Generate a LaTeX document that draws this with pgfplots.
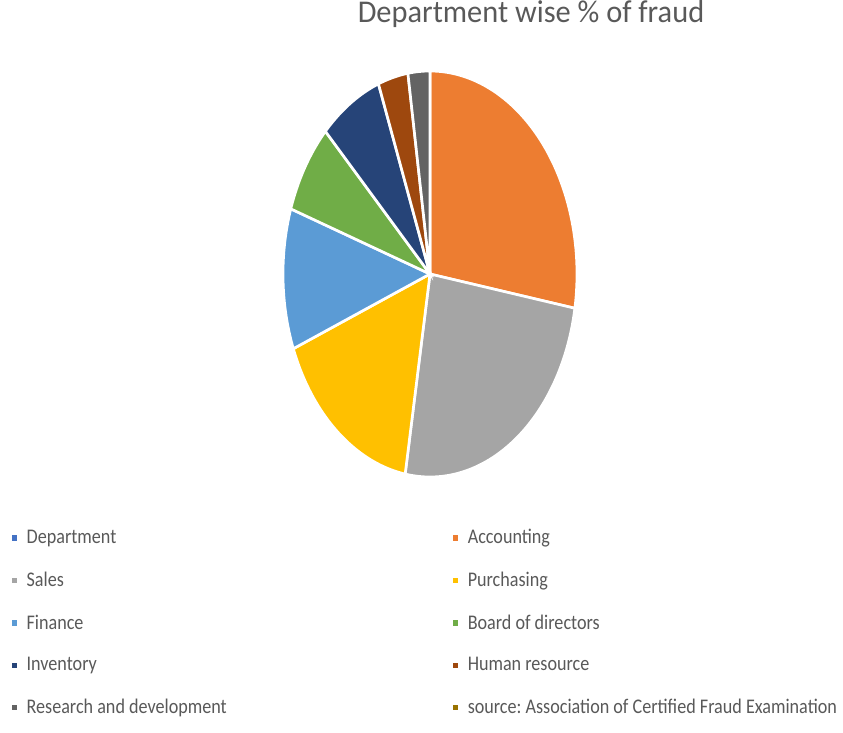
\documentclass[border=0pt]{standalone}
\usepackage{pgfplots}
\pgfplotsset{compat=1.18}
\usepackage{fontspec}
\setmainfont{Carlito}[FakeStretch=0.87]
\newfontfamily\titlefont{Carlito}[FakeStretch=0.96]
\frenchspacing
\definecolor{cdept}{HTML}{4472C4}
\definecolor{cacc}{HTML}{ED7D31}
\definecolor{csales}{HTML}{A5A5A5}
\definecolor{cpur}{HTML}{FFC000}
\definecolor{cfin}{HTML}{5B9BD5}
\definecolor{cboard}{HTML}{70AD47}
\definecolor{cinv}{HTML}{264478}
\definecolor{chr}{HTML}{9E480E}
\definecolor{crd}{HTML}{636363}
\definecolor{csrc}{HTML}{997300}
\definecolor{txtgray}{HTML}{595959}
\begin{document}
\begin{tikzpicture}[x=0.6pt,y=0.6pt]
\useasboundingbox (0,0) rectangle (843,733);
\node[anchor=base, font=\titlefont\fontsize{19}{22}\selectfont, text=txtgray] at (531,710) {Department wise \% of fraud};
\begin{axis}[
  at={(258pt,275.4pt)}, anchor=center,
  scale only axis, width=176.4pt, height=243.6pt,
  xmin=-1, xmax=1, ymin=-1, ymax=1,
  hide axis, clip=false,
  legend columns=2,
  legend cell align=left,
  legend image code/.code={\fill[#1, draw=none] (0pt,-1.6pt) rectangle (3.2pt,1.6pt);},
  legend style={draw=none, fill=none, at={(-0.94,-0.112)}, anchor=north west,
    font=\fontsize{12.5}{14.5}\selectfont\frenchspacing, text=txtgray, row sep=11.4pt,
    /tikz/every odd column/.append style={column sep=3.6pt},
    /tikz/every even column/.append style={column sep=133.8pt}},
  slice/.style={draw=white, line width=1.6pt, samples=60, variable=\t},
]
\addlegendimage{fill=cdept, draw=none}
\addlegendentry{Department}
% domains are cumulative percentages (start:end); angle = 3.6*t clockwise from 12 o'clock
\addplot[slice, fill=cacc,   domain=0:27.7]   ({sin(3.6*t)}, {cos(3.6*t)}) -- (axis cs:0,0) -- cycle;
\addlegendentry{Accounting}
\addplot[slice, fill=csales, domain=27.7:52.7] ({sin(3.6*t)}, {cos(3.6*t)}) -- (axis cs:0,0) -- cycle;
\addlegendentry{Sales}
\addplot[slice, fill=cpur,   domain=52.7:69.0] ({sin(3.6*t)}, {cos(3.6*t)}) -- (axis cs:0,0) -- cycle;
\addlegendentry{Purchasing}
\addplot[slice, fill=cfin,   domain=69.0:80.2] ({sin(3.6*t)}, {cos(3.6*t)}) -- (axis cs:0,0) -- cycle;
\addlegendentry{Finance}
\addplot[slice, fill=cboard, domain=80.2:87.4] ({sin(3.6*t)}, {cos(3.6*t)}) -- (axis cs:0,0) -- cycle;
\addlegendentry{Board of directors}
\addplot[slice, fill=cinv,   domain=87.4:94.3] ({sin(3.6*t)}, {cos(3.6*t)}) -- (axis cs:0,0) -- cycle;
\addlegendentry{Inventory}
\addplot[slice, fill=chr,    domain=94.3:97.6] ({sin(3.6*t)}, {cos(3.6*t)}) -- (axis cs:0,0) -- cycle;
\addlegendentry{Human resource}
\addplot[slice, fill=crd,    domain=97.6:100]  ({sin(3.6*t)}, {cos(3.6*t)}) -- (axis cs:0,0) -- cycle;
\addlegendentry{Research and development}
\addlegendimage{fill=csrc, draw=none}
\addlegendentry{source: Association of Certified Fraud Examination}
\end{axis}
\end{tikzpicture}
\end{document}
